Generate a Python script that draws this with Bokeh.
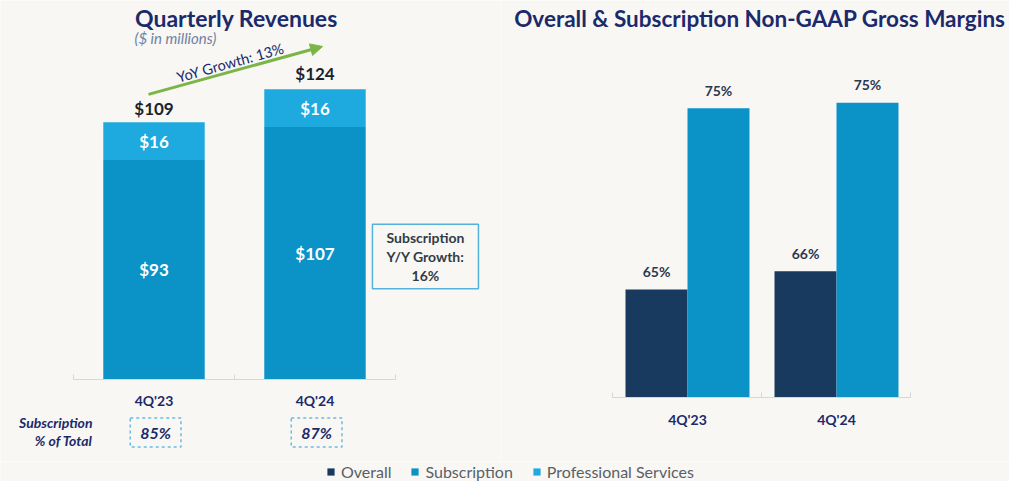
from bokeh.plotting import figure
from bokeh.models import (ColumnDataSource, Range1d, Label, Arrow, NormalHead, Legend, LegendItem,
                          LinearAxis, FixedTicker)
from bokeh.layouts import row, column
from bokeh.transform import dodge
from bokeh.core.properties import value
from bokeh.embed import file_html
from bokeh.resources import INLINE

# ---------------- data ----------------
quarters = ["4Q'23", "4Q'24"]
subscription_rev = [93, 107]
prof_services_rev = [16, 16]
total_rev = [109, 124]
subscription_pct = ["85%", "87%"]
overall_margin = [65.0, 66.0]
subscription_margin = [74.9, 75.2]
overall_margin_lbl = ["65%", "66%"]
subscription_margin_lbl = ["75%", "75%"]

BG = "#f8f7f4"
NAVY = "#1b2a6b"
C_OVERALL = "#173a5e"
C_SUB = "#0b93c8"
C_PS = "#1eaadf"
AXIS_C = "#d3d8dc"
FONT = "Lato"

centers = [i + 0.5 for i in range(len(quarters))]
bounds_ticks = [float(i) for i in range(len(quarters) + 1)]


def make_axis(loc, standoff):
    ax = LinearAxis(fixed_location=loc,
                    ticker=FixedTicker(ticks=centers, minor_ticks=bounds_ticks),
                    major_label_overrides=dict(zip(centers, quarters)),
                    bounds=(bounds_ticks[0], bounds_ticks[-1]),
                    axis_line_color=AXIS_C, major_tick_line_color=None,
                    minor_tick_line_color=AXIS_C, minor_tick_in=5, minor_tick_out=0,
                    major_label_standoff=standoff, major_label_text_font=FONT,
                    major_label_text_font_style="bold", major_label_text_font_size="14px",
                    major_label_text_color=NAVY)
    return ax


def base_fig(w, h, xr, yr):
    f = figure(width=w, height=h, x_range=xr, y_range=yr, output_backend="svg",
               toolbar_location=None, x_axis_location=None, y_axis_location=None, min_border=0,
               background_fill_color=BG, border_fill_color=BG, outline_line_color=None)
    f.xgrid.visible = False
    f.ygrid.visible = False
    return f


# ---------------- left: quarterly revenues ----------------
left = base_fig(500, 461, Range1d(-0.4534, 2.6522), Range1d(-34.75, 160.59))

src = ColumnDataSource(dict(xc=centers, sub=subscription_rev, ps=prof_services_rev, total=total_rev,
                            sub_mid=[s / 2 for s in subscription_rev],
                            ps_mid=[s + p / 2 for s, p in zip(subscription_rev, prof_services_rev)],
                            sub_lbl=["$%d" % v for v in subscription_rev],
                            ps_lbl=["$%d" % v for v in prof_services_rev],
                            tot_lbl=["$%d" % v for v in total_rev]))
left.vbar_stack(["sub", "ps"], x="xc", width=0.63, color=[C_SUB, C_PS], line_color=None, source=src)

left.text(x="xc", y="sub_mid", text="sub_lbl", source=src, text_align="center", text_baseline="middle",
          text_color="white", text_font=value(FONT), text_font_style="bold", text_font_size="17px")
left.text(x="xc", y="ps_mid", text="ps_lbl", source=src, text_align="center", text_baseline="middle",
          text_color="white", text_font=value(FONT), text_font_style="bold", text_font_size="17px")
left.text(x="xc", y="total", text="tot_lbl", source=src, text_align="center", text_baseline="bottom",
          y_offset=-3, text_color="#1c1f2e", text_font=value(FONT), text_font_style="bold",
          text_font_size="17px")

left.add_layout(make_axis(0, 7), "below")

left.add_layout(Label(x=1.012, y=153, text="Quarterly Revenues", text_align="center",
                      text_baseline="middle", text_font=FONT, text_font_style="bold",
                      text_font_size="23px", text_color=NAVY))
left.add_layout(Label(x=0.379, y=144.5, text="($ in millions)", text_align="left", text_baseline="middle",
                      text_font=FONT, text_font_style="italic", text_font_size="15px",
                      text_color="#6f80a3"))
left.add_layout(Arrow(x_start=0.466, y_start=120.8, x_end=1.547, y_end=141.1, line_color="#7bb547",
                      line_width=3,
                      end=NormalHead(size=12, fill_color="#7bb547", line_color="#7bb547")))
left.add_layout(Label(x=0.975, y=134.3, text="YoY Growth: 13%", angle=15.5, angle_units="deg",
                      text_align="center", text_baseline="middle", text_font=FONT,
                      text_font_size="14.5px", text_color=NAVY))
left.add_layout(Label(x=2.186, y=52.1, text="Subscription\nY/Y Growth:\n16%", text_align="center",
                      text_baseline="middle", text_font=FONT, text_font_style="bold",
                      text_font_size="14px", text_color="#333b44", text_line_height=1.1,
                      border_line_color="#55b2dc", border_line_width=1.5, padding=(14, 5)))
left.add_layout(Label(x=0.118, y=-18.2, text="Subscription", text_align="right", text_baseline="middle",
                      text_font=FONT, text_font_style="bold italic", text_font_size="14px",
                      text_color=NAVY))
left.add_layout(Label(x=0.118, y=-25.8, text="% of Total", text_align="right", text_baseline="middle",
                      text_font=FONT, text_font_style="bold italic", text_font_size="14px",
                      text_color=NAVY))
for xc, t in zip(centers, subscription_pct):
    left.add_layout(Label(x=xc + 0.01, y=-22.5, text=t, text_align="center", text_baseline="middle",
                          text_font=FONT, text_font_style="bold italic", text_font_size="16px",
                          text_color=NAVY, border_line_color="#6bbbe0", border_line_dash="3 3",
                          border_line_width=1.5, padding=(10, 5)))

# ---------------- right: gross margins ----------------
BASE = 59.1
right = base_fig(509, 461, Range1d(-0.7550, 2.6611), Range1d(55.60, 80.79))

msrc = ColumnDataSource(dict(xc=centers, overall=overall_margin, sub=subscription_margin,
                             olbl=overall_margin_lbl, slbl=subscription_margin_lbl))
right.vbar(x=dodge("xc", -0.208), top="overall", bottom=BASE, width=0.416,
           color=C_OVERALL, line_color=None, source=msrc)
right.vbar(x=dodge("xc", 0.208), top="sub", bottom=BASE, width=0.416,
           color=C_SUB, line_color=None, source=msrc)
right.text(x=dodge("xc", -0.208), y="overall", text="olbl", source=msrc,
           text_align="center", text_baseline="middle", y_offset=-18, text_color="#2b3850",
           text_font=value(FONT), text_font_style="bold", text_font_size="14px")
right.text(x=dodge("xc", 0.208), y="sub", text="slbl", source=msrc,
           text_align="center", text_baseline="middle", y_offset=-18, text_color="#2b3850",
           text_font=value(FONT), text_font_style="bold", text_font_size="14px")

right.add_layout(make_axis(BASE, 8), "below")
right.add_layout(Label(x=0.986, y=79.81, text="Overall & Subscription Non-GAAP Gross Margins",
                       text_align="center", text_baseline="middle", text_font=FONT,
                       text_font_style="bold", text_font_size="22.5px", text_color=NAVY))

# ---------------- legend strip ----------------
leg = base_fig(1009, 20, Range1d(0, 1), Range1d(0, 1))
dummy = ColumnDataSource(dict(x=[0.5], top=[0.0]))
r1 = leg.vbar(x="x", top="top", width=0.0, fill_color=C_OVERALL, line_color=None, source=dummy)
r2 = leg.vbar(x="x", top="top", width=0.0, fill_color=C_SUB, line_color=None, source=dummy)
r3 = leg.vbar(x="x", top="top", width=0.0, fill_color=C_PS, line_color=None, source=dummy)
legend = Legend(items=[LegendItem(label="Overall", renderers=[r1]),
                       LegendItem(label="Subscription", renderers=[r2]),
                       LegendItem(label="Professional Services", renderers=[r3])],
                orientation="horizontal", location=(326, 0), glyph_width=9, glyph_height=9,
                label_height=16, label_standoff=6, spacing=19, padding=0, margin=0,
                label_text_font=FONT, label_text_font_size="16px", label_text_color="#5a5f66",
                background_fill_alpha=0, border_line_color=None)
leg.add_layout(legend, "center")

layout = column(row(left, right, spacing=0), leg, spacing=0)

open("out.html", "w").write(file_html(layout, INLINE))
